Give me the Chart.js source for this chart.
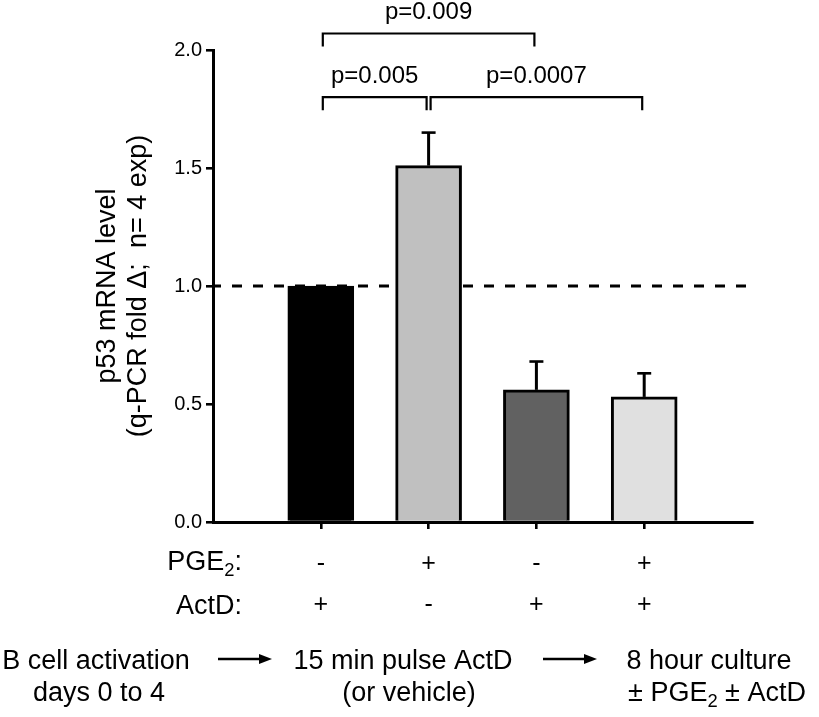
<!DOCTYPE html>
<html>
<head>
<meta charset="utf-8">
<script src="https://cdn.jsdelivr.net/npm/chart.js@4"></script>
<style>
html,body{margin:0;padding:0;background:#fff;}
#wrap{width:819px;height:717px;position:relative;}
</style>
</head>
<body>
<div id="wrap"><canvas id="c"></canvas></div>
<script>
// ---------- DATA ----------
const categories = ['ActD pulse', 'PGE2', 'ActD', 'PGE2 + ActD'];
const values = [1.00, 1.51, 0.56, 0.53];
const errors = [0, 0.14, 0.12, 0.10];
const pgeRow = ['-', '+', '-', '+'];
const actdRow = ['+', '-', '+', '+'];
const rowHeaders = ['PGE_{2}:', 'ActD:'];
const refLevel = 1.0;
const bracketFrom = [0, 1, 0];
const bracketTo = [1, 3, 2];
const bracketLevel = [1.80, 1.80, 2.07];
const bracketLabels = ['p=0.005', 'p=0.0007', 'p=0.009'];
const yTitle = ['p53 mRNA level', '(q-PCR fold \u0394;  n= 4 exp)'];
const flowSteps = [
  ['B cell activation', 'days 0 to 4'],
  ['15 min pulse ActD', '(or vehicle)'],
  ['8 hour culture', '\u00b1 PGE_{2} \u00b1 ActD']
];

// ---------- STYLE / LAYOUT ----------
const FAMILY = '"Liberation Sans", Arial, Helvetica, sans-serif';
const barColors = ['#000000', '#c0c0c0', '#616161', '#e0e0e0'];
const flowCenters = [[96, 99], [403, 409], [709, 717]];
const flowBaselines = [669, 701];
const flowArrows = [[218, 272], [543, 597]];
const flowArrowY = 659;

const labels = ['', ...categories, ''];
const data = [null, ...values, null];
const colors = ['rgba(0,0,0,0)', ...barColors, 'rgba(0,0,0,0)'];

function richParts(s) {
  const out = []; const re = /_\{([^}]*)\}/g; let last = 0, m;
  while ((m = re.exec(s))) {
    if (m.index > last) out.push([s.slice(last, m.index), false]);
    out.push([m[1], true]); last = re.lastIndex;
  }
  if (last < s.length) out.push([s.slice(last), false]);
  return out;
}
function drawRich(ctx, s, x, y, size, align) {
  const parts = richParts(s);
  const subSize = size * 0.68;
  const widths = parts.map(([t, sub]) => { ctx.font = `${sub ? subSize : size}px ${FAMILY}`; return ctx.measureText(t).width; });
  const total = widths.reduce((a, b) => a + b, 0);
  let cx = align === 'center' ? x - total / 2 : (align === 'right' ? x - total : x);
  ctx.textAlign = 'left'; ctx.textBaseline = 'alphabetic';
  parts.forEach(([t, sub], i) => {
    ctx.font = `${sub ? subSize : size}px ${FAMILY}`;
    ctx.fillText(t, cx, sub ? y + size * 0.24 : y);
    cx += widths[i];
  });
}

const annot = {
  id: 'annot',
  beforeDatasetsDraw(chart) {
    const { ctx, chartArea, scales: { y } } = chart;
    const py = y.getPixelForValue(refLevel);
    ctx.save();
    ctx.strokeStyle = '#000'; ctx.lineWidth = 3;
    ctx.setLineDash([10, 11]); ctx.lineDashOffset = 2;
    ctx.beginPath(); ctx.moveTo(chartArea.left, py); ctx.lineTo(chartArea.right - 4, py); ctx.stroke();
    ctx.restore();
  },
  afterDatasetsDraw(chart) {
    const { ctx, scales: { x, y } } = chart;
    ctx.save();
    ctx.strokeStyle = '#000'; ctx.fillStyle = '#000'; ctx.lineCap = 'butt';
    // error bars
    values.forEach((v, i) => {
      const e = errors[i]; if (!e) return;
      const px = x.getPixelForValue(i + 1);
      const y0 = y.getPixelForValue(v), y1 = y.getPixelForValue(v + e);
      ctx.lineWidth = 3;
      ctx.beginPath(); ctx.moveTo(px, y0); ctx.lineTo(px, y1); ctx.stroke();
      ctx.lineWidth = 2.6;
      ctx.beginPath(); ctx.moveTo(px - 7, y1); ctx.lineTo(px + 7, y1); ctx.stroke();
    });
    // significance brackets
    bracketLabels.forEach((lab, i) => {
      const x1 = x.getPixelForValue(bracketFrom[i] + 1) + 2;
      const x2 = x.getPixelForValue(bracketTo[i] + 1) - 2;
      const py = y.getPixelForValue(bracketLevel[i]);
      ctx.lineWidth = 2.2;
      ctx.beginPath();
      ctx.moveTo(x1, py + 13); ctx.lineTo(x1, py); ctx.lineTo(x2, py); ctx.lineTo(x2, py + 13);
      ctx.stroke();
      ctx.font = `24px ${FAMILY}`; ctx.textAlign = 'center'; ctx.textBaseline = 'alphabetic';
      ctx.fillText(lab, (x1 + x2) / 2, py - 14);
    });
    ctx.restore();
  },
  afterDraw(chart) {
    const { ctx, chartArea } = chart;
    ctx.save();
    ctx.fillStyle = '#000'; ctx.strokeStyle = '#000';
    // row headers
    drawRich(ctx, rowHeaders[0], 242, chartArea.bottom + 48, 27, 'right');
    drawRich(ctx, rowHeaders[1], 242, chartArea.bottom + 92, 27, 'right');
    // flow text
    flowSteps.forEach((lines, g) => {
      lines.forEach((t, l) => drawRich(ctx, t, flowCenters[g][l], flowBaselines[l], 27, 'center'));
    });
    flowArrows.forEach(([a, b]) => {
      ctx.lineWidth = 2.5;
      ctx.beginPath(); ctx.moveTo(a, flowArrowY); ctx.lineTo(b - 10, flowArrowY); ctx.stroke();
      ctx.beginPath(); ctx.moveTo(b, flowArrowY); ctx.lineTo(b - 13, flowArrowY - 5); ctx.lineTo(b - 13, flowArrowY + 5); ctx.closePath(); ctx.fill();
    });
    ctx.restore();
  }
};

new Chart(document.getElementById('c'), {
  type: 'bar',
  data: {
    labels: labels,
    datasets: [{
      data: data,
      backgroundColor: colors,
      borderColor: '#000',
      borderWidth: 3,
      barThickness: 66
    }]
  },
  options: {
    responsive: true,
    maintainAspectRatio: false,
    animation: false,
    layout: { padding: { left: 0, right: 67, top: 50, bottom: 0 }, autoPadding: false },
    plugins: { legend: { display: false }, tooltip: { enabled: false } },
    scales: {
      x: {
        type: 'category',
        offset: false,
        afterFit: (s) => { s.height = 195; },
        border: { display: true, color: '#000', width: 3 },
        grid: {
          offset: false,
          drawOnChartArea: false, drawTicks: true, tickLength: 7, lineWidth: 2.6,
          color: (c) => (c.index >= 1 && c.index <= categories.length) ? '#000' : 'rgba(0,0,0,0)'
        },
        ticks: {
          autoSkip: false, maxRotation: 0, minRotation: 0, padding: 15,
          color: '#000',
          font: { family: FAMILY, size: 25, lineHeight: 41 / 25 },
          callback: (v, i) => (i >= 1 && i <= categories.length) ? [pgeRow[i - 1], actdRow[i - 1]] : ''
        }
      },
      y: {
        min: 0, max: 2,
        afterFit: (s) => { s.width = 213; },
        border: { display: true, color: '#000', width: 3 },
        grid: { drawOnChartArea: false, drawTicks: true, tickLength: 7, lineWidth: 2.6, color: '#000' },
        ticks: {
          stepSize: 0.5, padding: 4, color: '#000',
          font: { family: FAMILY, size: 20 },
          callback: (v) => Number(v).toFixed(1)
        },
        title: {
          display: true, text: yTitle, color: '#000',
          font: { family: FAMILY, size: 27, lineHeight: 31 / 27 },
          padding: { top: 92, bottom: 0 }
        }
      }
    }
  },
  plugins: [annot]
});
</script>
</body>
</html>
